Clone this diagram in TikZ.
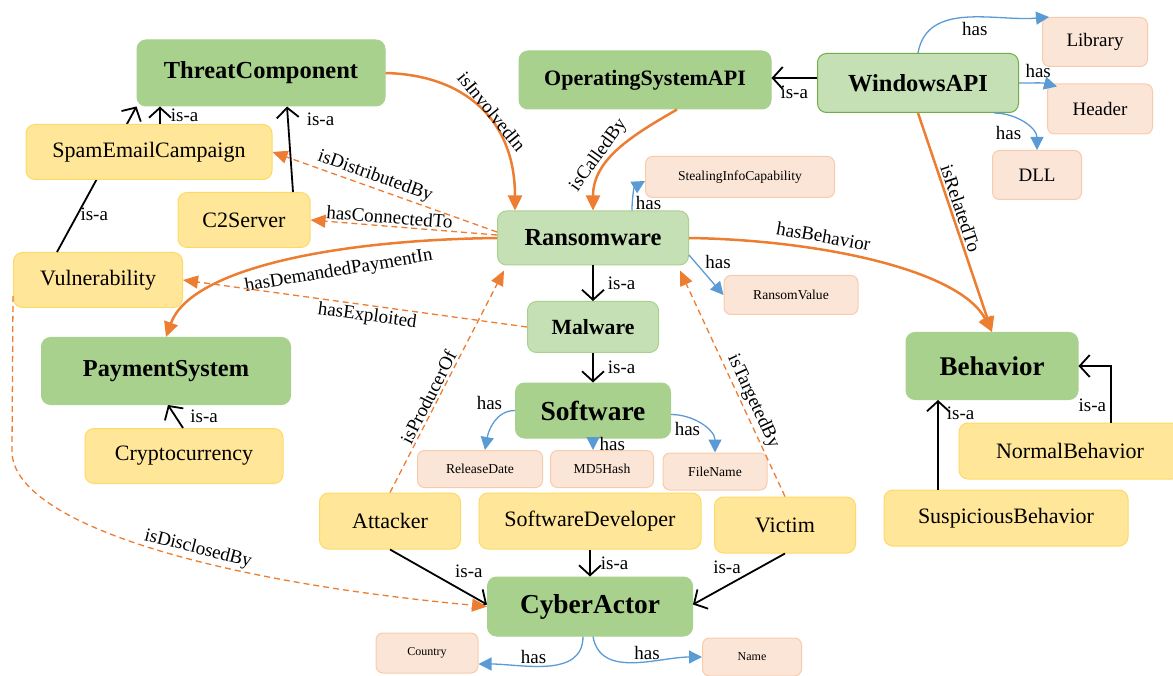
\documentclass[tikz,border=0pt]{standalone}
\usepackage{fontspec}
\setmainfont{Liberation Serif}
\usetikzlibrary{arrows.meta,positioning}
\definecolor{DarkClr}{RGB}{169,209,142}
\definecolor{LightClr}{RGB}{197,224,180}
\definecolor{LightBorderClr}{RGB}{112,173,71}
\definecolor{YellowClr}{RGB}{255,230,153}
\definecolor{YellowBorderClr}{RGB}{255,217,102}
\definecolor{PeachClr}{RGB}{251,229,214}
\definecolor{PeachBorderClr}{RGB}{248,203,173}
\definecolor{OrangeClr}{RGB}{237,125,49}
\definecolor{BlueClr}{RGB}{91,155,213}

\begin{document}
\begin{tikzpicture}[x=1pt,y=1pt,
  box/.style={rectangle,rounded corners=9pt,line width=1pt,inner sep=0pt},
  dark/.style={box,fill=DarkClr,draw=DarkClr},
  light/.style={box,fill=LightClr,draw=DarkClr},
  yellow/.style={box,fill=YellowClr,draw=YellowBorderClr},
  peach/.style={box,fill=PeachClr,draw=PeachBorderClr,rounded corners=7pt},
  btxt/.style={font=\fontsize{#1}{#1}\selectfont\bfseries},
  txt/.style={font=\fontsize{#1}{#1}\selectfont},
  lbl/.style={font=\fontsize{19}{19}\selectfont,inner sep=2pt},
  isa/.style={draw=black,line width=1.8pt,-{Straight Barb[length=10pt,width=22pt]}},
  rel/.style={draw=OrangeClr,line width=2.5pt,-{Triangle[length=15pt,width=14pt]}},
  reldash/.style={draw=OrangeClr,line width=1.3pt,dash pattern=on 6pt off 4pt,-{Triangle[length=15pt,width=13pt]}},
  hasrel/.style={draw=BlueClr,line width=1.3pt,-{Triangle[length=13pt,width=13pt]}}]
\useasboundingbox (0,0) rectangle (1173,-676);

% classes
\node[dark,btxt=24.5,minimum width=248pt,minimum height=66pt] (Threat) at (261,-73) {ThreatComponent};
\node[yellow,txt=22,minimum width=169pt,minimum height=55pt] (Vuln) at (98,-280) {Vulnerability};
% this one runs behind the SpamEmailCampaign box
\draw[isa] ([xshift=44pt]Vuln.north west) -- (Threat.south west) node[lbl,pos=0.26,right] {is-a};

\node[yellow,txt=22,minimum width=246pt,minimum height=55pt] (Spam) at (149,-152) {SpamEmailCampaign};
\node[yellow,txt=22,minimum width=132pt,minimum height=55pt] (CtwoServer) at (244,-220) {C2Server};
\node[dark,btxt=24.3,minimum width=249pt,minimum height=67pt] (Payment) at (166,-371) {PaymentSystem};
\node[yellow,txt=22,minimum width=198pt,minimum height=55pt] (Crypto) at (184,-456) {Cryptocurrency};

\node[dark,btxt=22,minimum width=252pt,minimum height=58pt] (OsApi) at (645,-80) {OperatingSystemAPI};
\node[light,draw=LightBorderClr,btxt=24.5,minimum width=201pt,minimum height=59pt] (WinApi) at (918,-83) {WindowsAPI};
\node[peach,txt=19,minimum width=105pt,minimum height=49pt] (Library) at (1095,-42) {Library};
\node[peach,txt=19,minimum width=105pt,minimum height=50pt] (Header) at (1100,-109) {Header};
\node[peach,txt=19,minimum width=89pt,minimum height=49pt] (Dll) at (1037,-175) {DLL};

\node[light,btxt=24.5,minimum width=191pt,minimum height=54pt] (Ransom) at (593,-238) {Ransomware};
\node[peach,txt=13.6,minimum width=189pt,minimum height=41pt] (Stealing) at (740,-177) {StealingInfoCapability};
\node[peach,txt=13.6,minimum width=134pt,minimum height=39pt] (RansomValue) at (791,-295) {RansomValue};
\node[light,btxt=21.7,minimum width=131pt,minimum height=51pt] (Malware) at (593,-327) {Malware};
\node[dark,btxt=27.5,minimum width=155pt,minimum height=55pt] (Software) at (593,-410.5) {Software};
\node[peach,txt=13.6,minimum width=125pt,minimum height=37pt] (ReleaseDate) at (480,-469) {ReleaseDate};
\node[peach,txt=13.6,minimum width=103pt,minimum height=37pt] (Md5) at (602,-469) {MD5Hash};
\node[peach,txt=13.6,minimum width=104pt,minimum height=37pt] (FileName) at (715,-471.5) {FileName};

\node[dark,btxt=27,minimum width=172pt,minimum height=67pt] (Behavior) at (992,-366) {Behavior};
\node[yellow,txt=22,minimum width=222pt,minimum height=56pt] (Normal) at (1070,-451) {NormalBehavior};
\node[yellow,txt=22,minimum width=244pt,minimum height=56pt] (Suspicious) at (1006,-518) {SuspiciousBehavior};

\node[yellow,txt=22,minimum width=141pt,minimum height=56pt] (Attacker) at (390,-521) {Attacker};
\node[yellow,txt=22,minimum width=222pt,minimum height=56pt] (SoftDev) at (590,-521) {SoftwareDeveloper};
\node[yellow,txt=22,minimum width=141pt,minimum height=56pt] (Victim) at (785,-525) {Victim};
\node[dark,btxt=27.4,minimum width=205pt,minimum height=59pt] (Cyber) at (590,-606.5) {CyberActor};
\node[peach,txt=12,minimum width=102pt,minimum height=40pt] (Country) at (427,-653) {Country};
\node[peach,txt=12,minimum width=99pt,minimum height=38pt] (Name) at (752,-657) {Name};

% is-a
\draw[isa] ([xshift=11pt]Spam.north) -- ([xshift=11pt]Spam.north |- Threat.south) node[lbl,midway,right=8pt] {is-a};
\draw[isa] ([xshift=49pt]CtwoServer.north) -- ([xshift=26pt]Threat.south) node[lbl,pos=0.85,right=16pt] {is-a};
\draw[isa] ([yshift=5pt]WinApi.west) -- ([yshift=5pt]WinApi.west -| OsApi.east) node[lbl,midway,below=5pt] {is-a};
\draw[isa] (Ransom.south) -- (Malware.north) node[lbl,midway,right=12pt] {is-a};
\draw[isa] (Malware.south) -- (Software.north) node[lbl,midway,right=12pt] {is-a};
\draw[isa] (Attacker.south) -- ([yshift=2pt]Cyber.west) node[lbl,pos=0.6,above right=2pt and 4pt] {is-a};
\draw[isa] (SoftDev.south) -- (Cyber.north) node[lbl,midway,right=8pt] {is-a};
\draw[isa] (Victim.south) -- ([yshift=2pt]Cyber.east) node[lbl,pos=0.45,above left=0pt] {is-a};
\draw[isa] ([xshift=-1pt]Crypto.north) -- ([xshift=2pt]Payment.south) node[lbl,midway,right=12pt] {is-a};
\draw[isa] ([xshift=-68pt]Suspicious.north) -- ([xshift=-68pt]Suspicious.north |- Behavior.south) node[lbl,pos=0.85,right=6pt] {is-a};
\draw[isa] ([xshift=41pt]Normal.north) |- (Behavior.east) node[lbl,pos=0.15,left=2pt] {is-a};

% object properties
\draw[rel] (Threat.east) .. controls (465,-75) and (515,-120) .. ([xshift=-78pt]Ransom.north) node[lbl,pos=0.55,sloped,above=-3pt] {isInvolvedIn};
\draw[rel] ([xshift=32pt]OsApi.south) to[out=-150,in=90] node[lbl,pos=0.62,sloped,above] {isCalledBy} (Ransom.north);
\draw[rel] (Ransom.east) .. controls (820,-240) and (960,-270) .. (Behavior.north) node[lbl,pos=0.34,sloped,above=4pt] {hasBehavior};
\draw[rel] (Ransom.west) .. controls (330,-240) and (190,-270) .. (Payment.north) node[lbl,pos=0.35,sloped,below=9pt] {hasDemandedPaymentIn};
\draw[rel] (WinApi.south) -- node[lbl,pos=0.45,sloped,above] {isRelatedTo} (Behavior.north);

\draw[reldash] ([yshift=6pt]Ransom.west) -- node[lbl,pos=0.56,sloped,above] {isDistributedBy} (Spam.east);
\draw[reldash] ([yshift=3pt]Ransom.west) -- node[lbl,pos=0.58,sloped,above] {hasConnectedTo} (CtwoServer.east);
\draw[reldash] (Malware.west) -- node[lbl,pos=0.46,sloped,below] {hasExploited} (Vuln.east);
\draw[reldash] (Attacker.north) -- node[lbl,pos=0.41,sloped,above] {isProducerOf} ([xshift=7pt,yshift=-5pt]Ransom.south west);
\draw[reldash] (Victim.north) -- node[lbl,pos=0.4,sloped,above] {isTargetedBy} ([xshift=-9pt,yshift=-5pt]Ransom.south east);
\coordinate (DisclBend) at (12,-450);
\draw[reldash] ([yshift=12pt]Vuln.south west) -- (DisclBend) .. controls (10,-520) and (200,-580) .. (Cyber.west) node[lbl,pos=0.6,sloped,above] {isDisclosedBy};

% data properties
\draw[hasrel] (WinApi.north) to[out=80,in=185] node[lbl,pos=0.55,below=3pt] {has} ([xshift=7pt]Library.north west);
\draw[hasrel] (WinApi.east) to[out=0,in=165] node[lbl,midway,above=3pt] {has} ([xshift=10pt,yshift=-3pt]Header.north west);
\draw[hasrel] ([xshift=-25pt]WinApi.south east) to[out=0,in=90] node[lbl,midway,below left=0pt] {has} (Dll.north);
\draw[hasrel] ([xshift=39pt]Ransom.north) to[out=90,in=210] node[lbl,pos=0.2,right=1pt] {has} ([yshift=-4pt]Stealing.west);
\draw[hasrel] ([yshift=-17pt]Ransom.east) -- node[lbl,pos=0.4,above right=0pt] {has} (RansomValue.west);
\draw[hasrel] (Software.west) to[out=180,in=80] node[lbl,pos=0.2,above left=0pt] {has} ([xshift=5pt]ReleaseDate.north);
\draw[hasrel] (Software.south) -- node[lbl,midway,right=4pt] {has} (Software.south |- Md5.north);
\draw[hasrel] ([yshift=-4pt]Software.east) to[out=0,in=90] node[lbl,pos=0.25,below=2pt] {has} (FileName.north);
\draw[hasrel] ([xshift=-7pt]Cyber.south) to[out=-90,in=0] node[lbl,pos=0.6,above] {has} ([yshift=-11pt]Country.east);
\draw[hasrel] ([xshift=3pt]Cyber.south) to[out=-80,in=180] node[lbl,pos=0.6,above] {has} (Name.west);
\end{tikzpicture}
\end{document}
